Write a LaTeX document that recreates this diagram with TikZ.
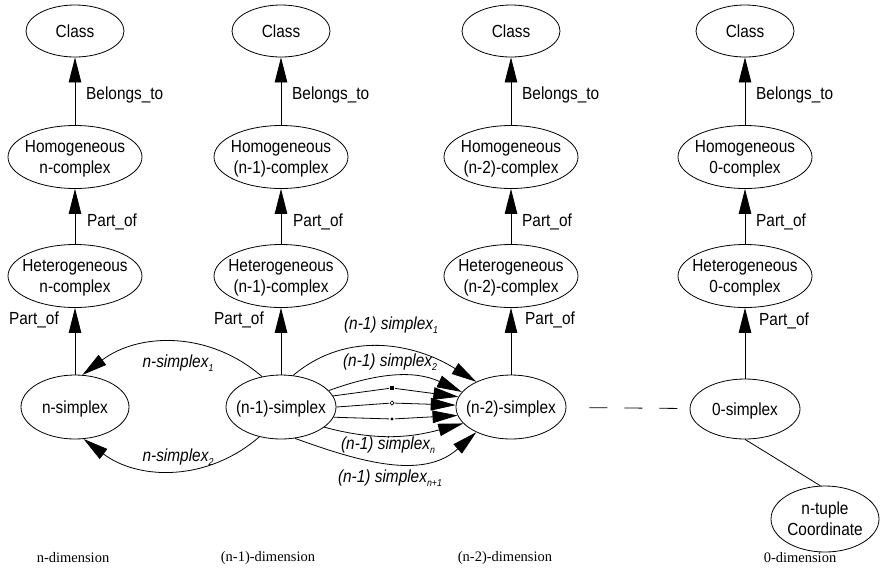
\documentclass[tikz,border=0pt]{standalone}
\usepackage{fontspec}
\setmainfont{Liberation Sans}[FakeStretch=0.88]
\newfontfamily\dimfont{Liberation Serif}
\usetikzlibrary{arrows.meta,shapes.geometric}
\newcommand{\ztxt}[1]{\raisebox{-6.4pt}[0pt][0pt]{\makebox[0pt]{\begin{tabular}{@{}c@{}}#1\end{tabular}}}}
\newcommand{\lsub}[1]{\raisebox{-4pt}{\fontsize{10}{10}\selectfont #1}}
\tikzset{
 ell/.style={ellipse, draw, line width=0.8pt, inner sep=0pt, font=\fontsize{17.5}{21}\selectfont},
 cls/.style={ell, minimum width=98pt, minimum height=52pt},
 cpx/.style={ell, minimum width=134pt, minimum height=63pt},
 smp/.style={ell, minimum width=110pt, minimum height=64pt},
 arr/.style={line width=0.8pt, -{Triangle[length=25pt,width=12.5pt]}},
 plain/.style={line width=0.8pt},
 lbl/.style={inner sep=0pt, font=\fontsize{17.5}{21}\selectfont},
 ilbl/.style={inner sep=0pt, font=\fontsize{17.5}{21}\selectfont\itshape},
 dimlbl/.style={inner sep=0pt, font=\dimfont\fontsize{14.5}{17}\selectfont},
}
\begin{document}
\begin{tikzpicture}[x=1pt,y=1pt]
\useasboundingbox (0,0) rectangle (880,-571);
% Class row
\node[cls] (c1) at (75,-31) {\ztxt{Class}};
\node[cls] (c2) at (281,-31) {\ztxt{Class}};
\node[cls] (c3) at (511,-31) {\ztxt{Class}};
\node[cls] (c4) at (745,-31) {\ztxt{Class}};
% Homogeneous row
\node[cpx] (h1) at (75,-157) {\ztxt{Homogeneous\\n-complex}};
\node[cpx] (h2) at (281,-157) {\ztxt{Homogeneous\\(n-1)-complex}};
\node[cpx] (h3) at (511,-157) {\ztxt{Homogeneous\\(n-2)-complex}};
\node[cpx] (h4) at (745,-157) {\ztxt{Homogeneous\\0-complex}};
% Heterogeneous row
\node[cpx] (t1) at (75,-276) {\ztxt{Heterogeneous\\n-complex}};
\node[cpx] (t2) at (281,-276) {\ztxt{Heterogeneous\\(n-1)-complex}};
\node[cpx] (t3) at (511,-276) {\ztxt{Heterogeneous\\(n-2)-complex}};
\node[cpx] (t4) at (745,-276) {\ztxt{Heterogeneous\\0-complex}};
% simplex row
\node[smp, minimum width=108pt] (s1) at (75,-407) {\ztxt{n-simplex}};
\node[smp] (s2) at (281,-407) {\ztxt{(n-1)-simplex}};
\node[smp] (s3) at (511,-407) {\ztxt{(n-2)-simplex}};
\node[smp, minimum height=60pt] (s4) at (745,-409) {\ztxt{0-simplex}};
\node[ell, minimum width=108pt, minimum height=66pt] (co) at (825,-519) {\ztxt{n-tuple\\Coordinate}};
% vertical arrows
\foreach \i in {1,2,3,4}{
  \draw[arr] (h\i) -- (c\i);
  \draw[arr] (t\i) -- (h\i);
  \draw[arr] (s\i) -- (t\i);
}
% vertical labels
\node[lbl, anchor=west] (b1) at (86,-95) {Belongs\_to};
\node[lbl, anchor=west] (b2) at (292,-95) {Belongs\_to};
\node[lbl, anchor=west] (b3) at (522,-95) {Belongs\_to};
\node[lbl, anchor=west] (b4) at (756,-95) {Belongs\_to};
\node[lbl, anchor=west] (p1) at (87,-222) {Part\_of};
\node[lbl, anchor=west] (p2) at (293,-222) {Part\_of};
\node[lbl, anchor=west] (p3) at (522,-222) {Part\_of};
\node[lbl, anchor=west] (p4) at (756,-222) {Part\_of};
\node[lbl, anchor=east] (q1) at (59,-320) {Part\_of};
\node[lbl, anchor=east] (q2) at (264,-320) {Part\_of};
\node[lbl, anchor=west] (q3) at (525,-320) {Part\_of};
\node[lbl, anchor=west] (q4) at (759,-321) {Part\_of};
% curved arrows to n-simplex
\draw[arr] (s2.122) to[out=139,in=37] (s1.77);
\draw[arr] (s2.234) to[out=221,in=323] (s1.285);
% arrows to (n-2)-simplex
\draw[arr] (s2.69) to[out=40,in=148] (s3.144);
\draw[arr] (s2.19) to[out=20,in=155] (s3.163);
\node[fill, rectangle, minimum size=4pt, inner sep=0pt, outer sep=1pt] (d1) at (392,-388) {};
\node[draw, diamond, minimum size=5pt, inner sep=0pt, line width=0.6pt, outer sep=1pt] (d2) at (392,-403) {};
\node[fill, diamond, minimum size=4pt, inner sep=0pt, outer sep=1pt] (d3) at (392,-419) {};
\draw[plain] (s2.12) -- (d1);
\draw[arr] (d1) -- (s3.169);
\draw[plain] (s2.east) -- (d2);
\draw[arr] (d2) -- (s3.178);
\draw[plain] (s2.349) -- (d3);
\draw[arr] (d3) -- (s3.189);
\draw[arr] (s2.335) to[out=345,in=195] (s3.199);
\draw[arr] (s2.294) to[out=340,in=222] (s3.216);
% edge labels
\node[ilbl] (l1) at (178,-363) {n-simplex\lsub{1}};
\node[ilbl] (l2) at (178,-457) {n-simplex\lsub{2}};
\node[ilbl] (l3) at (391,-325) {(n-1) simplex\lsub{1}};
\node[ilbl] (l4) at (390,-362) {(n-1) simplex\lsub{2}};
\node[ilbl] (l5) at (388,-445) {(n-1) simplex\lsub{n}};
\node[ilbl] (l6) at (390,-478) {(n-1) simplex\lsub{n+1}};
% dashed and plain lines
\draw[plain, dash pattern=on 18pt off 17pt, shorten <=23pt] (s3) -- (s4);
\draw[plain] (s4.south) -- (co.98);
% dimension labels
\node[dimlbl] (dn) at (73,-558) {n-dimension};
\node[dimlbl] (dn1) at (268,-558) {(n-1)-dimension};
\node[dimlbl] (dn2) at (505,-558) {(n-2)-dimension};
\node[dimlbl] (d0) at (800,-558) {0-dimension};
\end{tikzpicture}
\end{document}
